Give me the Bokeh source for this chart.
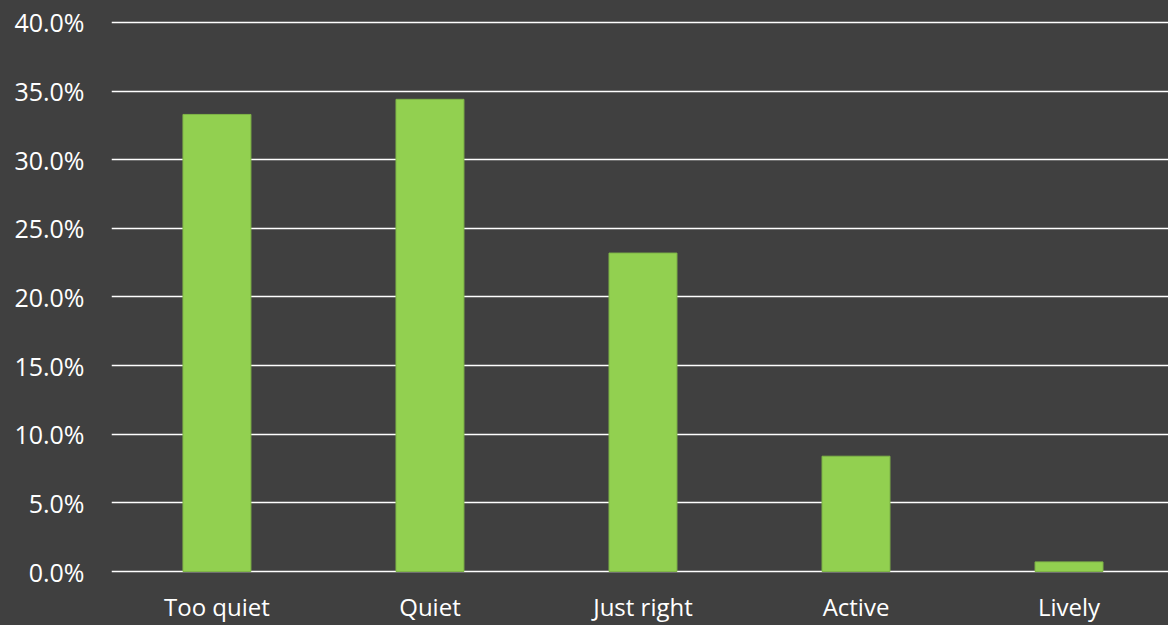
from bokeh.plotting import figure
from bokeh.models import FixedTicker, NumeralTickFormatter, Range1d, ColumnDataSource
from bokeh.embed import file_html
from bokeh.resources import INLINE

categories = ["Too quiet", "Quiet", "Just right", "Active", "Lively"]
shares = [0.333, 0.344, 0.232, 0.084, 0.007]
y_ticks = [0.0, 0.05, 0.10, 0.15, 0.20, 0.25, 0.30, 0.35, 0.40]

BG = "#404040"
GREEN = "#92D050"
FONT = "Open Sans"

xs = list(range(len(categories)))
src = ColumnDataSource(dict(x=xs, top=shares))

p = figure(width=1168, height=625, output_backend="svg", toolbar_location=None,
           x_range=Range1d(-0.495, 4.467), y_range=Range1d(-0.00218, 0.40727),
           min_border_left=111, min_border_right=0, min_border_top=12, min_border_bottom=50)
p.background_fill_color = BG
p.border_fill_color = BG
p.outline_line_color = None
p.styles = {"background-color": BG}

p.vbar(x="x", top="top", bottom=0, width=0.319, source=src,
       fill_color=GREEN, line_color="#7FB547", line_width=1)

p.xgrid.visible = False
p.ygrid.grid_line_color = "white"
p.ygrid.grid_line_width = 1.5
p.ygrid.ticker = FixedTicker(ticks=y_ticks)

p.yaxis.ticker = FixedTicker(ticks=y_ticks)
p.yaxis.formatter = NumeralTickFormatter(format="0.0%")
p.xaxis.ticker = FixedTicker(ticks=xs)
p.xaxis.major_label_overrides = {i: c for i, c in enumerate(categories)}

for ax in (p.xaxis[0], p.yaxis[0]):
    ax.axis_line_color = None
    ax.major_tick_line_color = None
    ax.minor_tick_line_color = None
    ax.major_tick_out = 0
    ax.major_tick_in = 0
    ax.major_label_text_color = "white"
    ax.major_label_text_font = FONT
    ax.major_label_text_font_size = "24px"

p.yaxis.major_label_text_font_size = "25px"
p.yaxis.major_label_standoff = 27
p.xaxis.major_label_standoff = 15

open("out.html", "w").write(file_html(p, INLINE))
